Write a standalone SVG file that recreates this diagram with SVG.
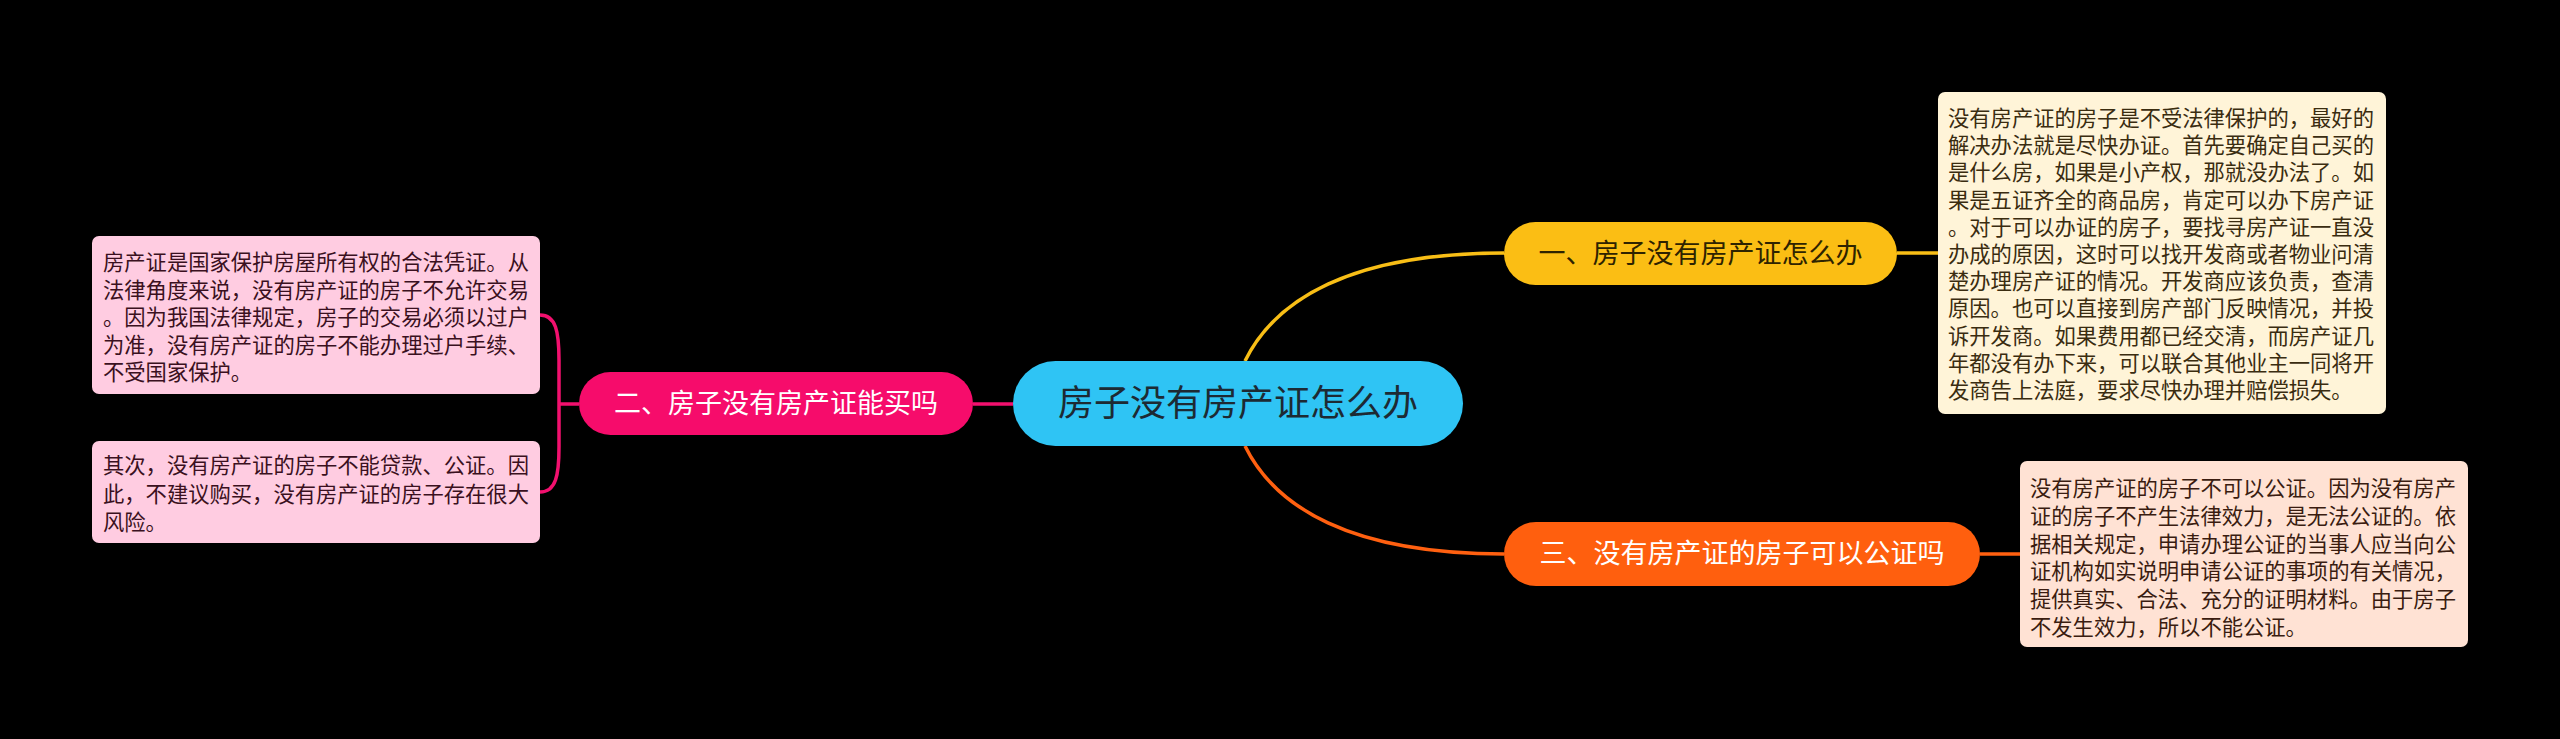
<svg xmlns="http://www.w3.org/2000/svg" width="2560" height="739" viewBox="0 0 2560 739">
<style>
text{font-family:"Noto Sans CJK SC","Noto Sans",sans-serif;}
.main{font-size:36px;fill:#1d2a33;}
.br{font-size:27px;}
.note{font-size:21.3px;}
.conn{fill:none;stroke-width:3.5;}
</style>
<rect width="2560" height="739" fill="#000"/>
<g id="connectors">
<path class="conn" stroke="#F8BE16" d="M1245 361 C1275 300 1350 253 1504 253"/>
<path class="conn" stroke="#FF6010" d="M1245 446 C1275 507 1350 554 1504 554"/>
<path class="conn" stroke="#F2106E" d="M973 404 L1013 404"/>
<path class="conn" stroke="#F8BE16" d="M1897 253 L1938 253"/>
<path class="conn" stroke="#FF6010" d="M1980 554 L2020 554"/>
<path class="conn" stroke="#F2106E" d="M579 404 L559 404 M540 315 C556 315 559 332 559 360 L559 447 C559 475 556 492 540 492"/>
</g>
<g id="central">
<rect x="1013" y="361" width="450" height="85" rx="42.5" fill="#2FC4F4"/>
<text class="main" x="1238" y="416" text-anchor="middle">房子没有房产证怎么办</text>
</g>
<g id="branch1">
<rect x="1504" y="222" width="393" height="63" rx="31.5" fill="#FBBE14"/>
<text class="br" x="1700.5" y="263" text-anchor="middle" fill="#2e2300">一、房子没有房产证怎么办</text>
</g>
<g id="branch2">
<rect x="579" y="372" width="394" height="63" rx="31.5" fill="#F60C6B"/>
<text class="br" x="776" y="413" text-anchor="middle" fill="#ffffff">二、房子没有房产证能买吗</text>
</g>
<g id="branch3">
<rect x="1504" y="522" width="476" height="64" rx="32" fill="#FF5F0E"/>
<text class="br" x="1742" y="563" text-anchor="middle" fill="#ffffff">三、没有房产证的房子可以公证吗</text>
</g>
<g id="note1">
<rect x="1938" y="92" width="448" height="322" rx="7" fill="#FFF4D8"/>
<text class="note" fill="#3a2c10" x="1948">
<tspan x="1948" y="126">没有房产证的房子是不受法律保护的，最好的</tspan>
<tspan x="1948" y="153.2">解决办法就是尽快办证。首先要确定自己买的</tspan>
<tspan x="1948" y="180.4">是什么房，如果是小产权，那就没办法了。如</tspan>
<tspan x="1948" y="207.6">果是五证齐全的商品房，肯定可以办下房产证</tspan>
<tspan x="1948" y="234.8">。对于可以办证的房子，要找寻房产证一直没</tspan>
<tspan x="1948" y="262">办成的原因，这时可以找开发商或者物业问清</tspan>
<tspan x="1948" y="289.2">楚办理房产证的情况。开发商应该负责，查清</tspan>
<tspan x="1948" y="316.4">原因。也可以直接到房产部门反映情况，并投</tspan>
<tspan x="1948" y="343.6">诉开发商。如果费用都已经交清，而房产证几</tspan>
<tspan x="1948" y="370.8">年都没有办下来，可以联合其他业主一同将开</tspan>
<tspan x="1948" y="398">发商告上法庭，要求尽快办理并赔偿损失。</tspan>
</text>
</g>
<g id="note3">
<rect x="2020" y="461" width="448" height="186" rx="7" fill="#FFE2D4"/>
<text class="note" fill="#3a1c10">
<tspan x="2030" y="496">没有房产证的房子不可以公证。因为没有房产</tspan>
<tspan x="2030" y="523.8">证的房子不产生法律效力，是无法公证的。依</tspan>
<tspan x="2030" y="551.6">据相关规定，申请办理公证的当事人应当向公</tspan>
<tspan x="2030" y="579.4">证机构如实说明申请公证的事项的有关情况，</tspan>
<tspan x="2030" y="607.2">提供真实、合法、充分的证明材料。由于房子</tspan>
<tspan x="2030" y="635">不发生效力，所以不能公证。</tspan>
</text>
</g>
<g id="note2a">
<rect x="92" y="236" width="448" height="158" rx="7" fill="#FFCCE1"/>
<text class="note" fill="#3a1020">
<tspan x="103" y="270">房产证是国家保护房屋所有权的合法凭证。从</tspan>
<tspan x="103" y="297.5">法律角度来说，没有房产证的房子不允许交易</tspan>
<tspan x="103" y="325">。因为我国法律规定，房子的交易必须以过户</tspan>
<tspan x="103" y="352.5">为准，没有房产证的房子不能办理过户手续、</tspan>
<tspan x="103" y="380">不受国家保护。</tspan>
</text>
</g>
<g id="note2b">
<rect x="92" y="441" width="448" height="102" rx="7" fill="#FFCCE1"/>
<text class="note" fill="#3a1020">
<tspan x="103" y="473">其次，没有房产证的房子不能贷款、公证。因</tspan>
<tspan x="103" y="501.5">此，不建议购买，没有房产证的房子存在很大</tspan>
<tspan x="103" y="530">风险。</tspan>
</text>
</g>
</svg>
